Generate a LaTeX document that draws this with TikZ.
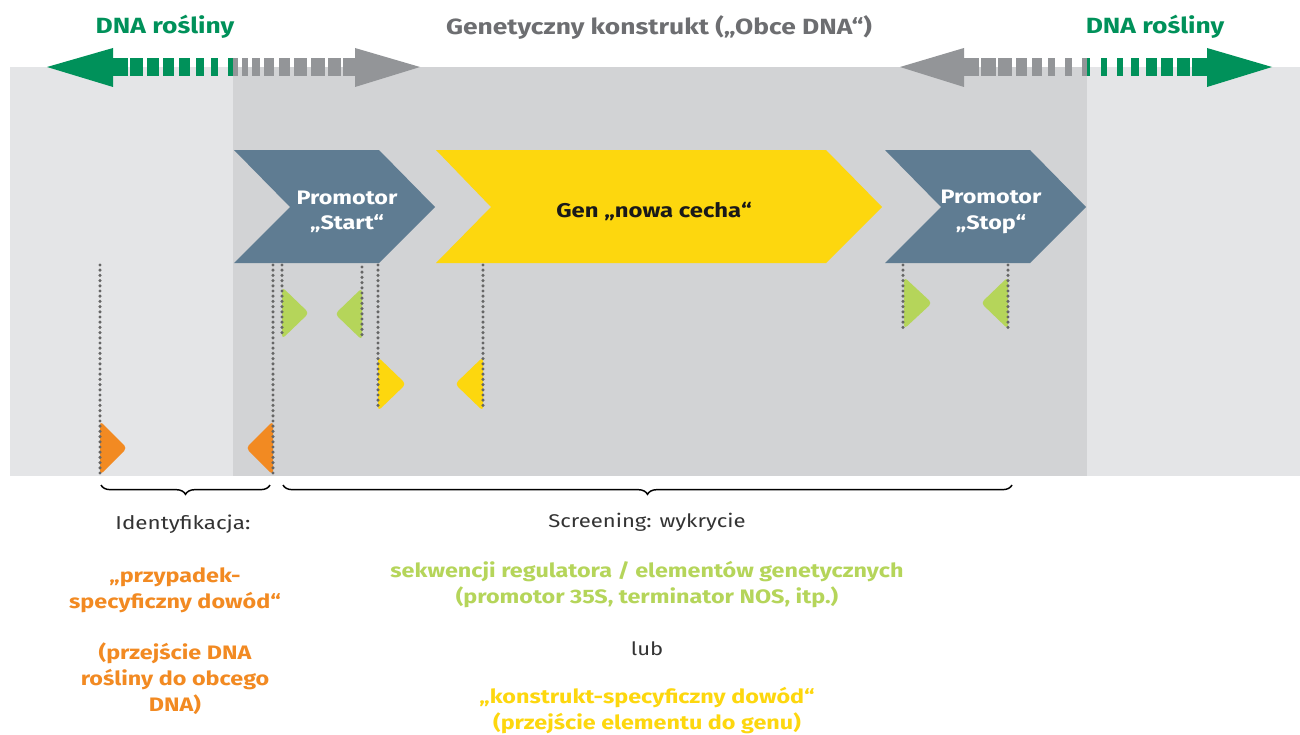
\documentclass[tikz,border=0pt]{standalone}
\usepackage{fontspec}
\setmainfont{Fira Sans}[FakeStretch=1.2]
\usetikzlibrary{decorations.pathreplacing}
\definecolor{bgl}{HTML}{E4E5E7}
\definecolor{bgd}{HTML}{D2D3D5}
\definecolor{dgreen}{HTML}{00915A}
\definecolor{agray}{HTML}{939598}
\definecolor{tgray}{HTML}{6D6E71}
\definecolor{slate}{HTML}{5F7C92}
\definecolor{gyellow}{HTML}{FDD70E}
\definecolor{lgreen}{HTML}{B5D55A}
\definecolor{orng}{HTML}{F28A22}
\definecolor{dotc}{HTML}{666666}
\tikzset{
  dotline/.style={draw=dotc, line width=2.6pt, line cap=round, dash pattern=on 0pt off 3.9pt},
  tri/.style={rounded corners=3pt},
  lbl/.style={font=\bfseries\fontsize{16.5}{19}\selectfont, inner sep=0pt},
  small/.style={font=\bfseries\fontsize{14.6}{19.5}\selectfont, align=center, inner sep=0pt},
  plain/.style={font=\fontsize{13.8}{16}\selectfont, text=black!80, inner sep=0pt},
  brc/.style={draw=black, line width=1.1pt, decorate, decoration={brace, mirror, amplitude=7pt}}
}
\begin{document}
\begin{tikzpicture}[x=0.75pt, y=-0.75pt]
\useasboundingbox (0,0) rectangle (1300,735);
\fill[white] (0,0) rectangle (1300,735);
% background bands
\fill[bgl] (10,67) rectangle (1300,476);
\fill[bgd] (233,67) rectangle (1087,476);

% top left arrow: green head + dashes
\fill[dgreen] (47,67) -- (113,48) -- (113,87) -- cycle;
\foreach \a/\b in {112/128,130/143,147/159,163/174,179/190,196/204,211/218,228/233}
  \fill[dgreen] (\a,58) rectangle (\b,76);
\foreach \a/\b in {233/238,242/248,252/260,264/274,279/290,294/307,311/325,328/341,343/356}
  \fill[agray] (\a,58) rectangle (\b,76);
\fill[agray] (355,48) -- (420,67) -- (355,87) -- cycle;

% top right arrow
\fill[agray] (900,67) -- (964,48) -- (964,87) -- cycle;
\foreach \a/\b in {963/979,981/996,998/1012,1016/1027,1032/1042,1048/1055,1065/1072,1082/1087}
  \fill[agray] (\a,58) rectangle (\b,76);
\foreach \a/\b in {1087/1090,1101/1107,1117/1123,1131/1139,1146/1157,1161/1173,1177/1190,1192/1208}
  \fill[dgreen] (\a,58) rectangle (\b,76);
\fill[dgreen] (1207,48) -- (1272,67) -- (1207,87) -- cycle;

% labels top
\node[lbl, text=dgreen] (dnal) at (165,27) {DNA rośliny};
\node[lbl, text=dgreen] (dnar) at (1155,27) {DNA rośliny};
\node[lbl, text=tgray] (gk) at (659,27) {Genetyczny konstrukt („Obce DNA“)};

% chevrons
\fill[slate] (234,150) -- (379,150) -- (435,207) -- (379,263) -- (234,263) -- (290,207) -- cycle;
\fill[gyellow] (436,150) -- (826,150) -- (882,207) -- (826,263) -- (436,263) -- (491,207) -- cycle;
\fill[slate] (885,150) -- (1030,150) -- (1086,207) -- (1030,263) -- (885,263) -- (941,207) -- cycle;
\node[lbl, text=white, align=center, font=\bfseries\fontsize{14.6}{19}\selectfont] (ps) at (347,212) {Promotor\\„Start“};
\node[lbl, text=black!90, font=\bfseries\fontsize{14.9}{17}\selectfont] (gen) at (654,212) {Gen „nowa cecha“};
\node[lbl, text=white, align=center, font=\bfseries\fontsize{14.6}{19}\selectfont] (pst) at (991,212) {Promotor\\„Stop“};

% triangles
\fill[orng, tri] (100,421) -- (127,448) -- (100,475) -- cycle;
\fill[orng, tri] (273,421) -- (246,448) -- (273,475) -- cycle;
\fill[lgreen, tri] (282,287) -- (309,313) -- (282,339) -- cycle;
\fill[lgreen, tri] (362,288) -- (335,314) -- (362,340) -- cycle;
\fill[gyellow, tri] (378,357) -- (406,384) -- (378,411) -- cycle;
\fill[gyellow, tri] (483,357) -- (455,384) -- (483,411) -- cycle;
\fill[lgreen, tri] (904,277) -- (932,303) -- (904,329) -- cycle;
\fill[lgreen, tri] (1008,277) -- (981,303) -- (1008,329) -- cycle;

% dotted lines
\coordinate (d1a) at (100,265); \coordinate (d1b) at (100,475);
\coordinate (d2a) at (273,265); \coordinate (d2b) at (273,474);
\coordinate (d3a) at (282,265); \coordinate (d3b) at (282,336);
\coordinate (d4a) at (362,267); \coordinate (d4b) at (362,338);
\coordinate (d5a) at (378,265); \coordinate (d5b) at (378,410);
\coordinate (d6a) at (483,265); \coordinate (d6b) at (483,410);
\coordinate (d7a) at (903,265); \coordinate (d7b) at (903,328);
\coordinate (d8a) at (1008,265); \coordinate (d8b) at (1008,328);
\foreach \i in {1,...,8} \draw[dotline] (d\i a) -- (d\i b);

% braces
\coordinate (b1a) at (101,485); \coordinate (b1b) at (270,485);
\coordinate (b2a) at (283,485); \coordinate (b2b) at (1012,485);
\draw[brc] (b1a) -- (b1b);
\draw[brc] (b2a) -- (b2b);

% bottom texts
\node[plain, font=\fontsize{14}{16}\selectfont] (ident) at (183,524) {Identyfikacja:};
\node[plain] (scr) at (647,522) {Screening: wykrycie};
\node[small, text=orng] (ord1) at (175,590) {„przypadek-\\specyficzny dowód“};
\node[small, text=orng] (ord2) at (175,679) {(przejście DNA\\rośliny do obcego\\DNA)};
\node[small, text=lgreen] (grt) at (647,585) {sekwencji regulatora / elementów genetycznych\\(promotor 35S, terminator NOS, itp.)};
\node[plain] (lub) at (647,649) {lub};
\node[small, text=gyellow] (yt) at (647,711) {„konstrukt-specyficzny dowód“\\(przejście elementu do genu)};
\end{tikzpicture}
\end{document}
